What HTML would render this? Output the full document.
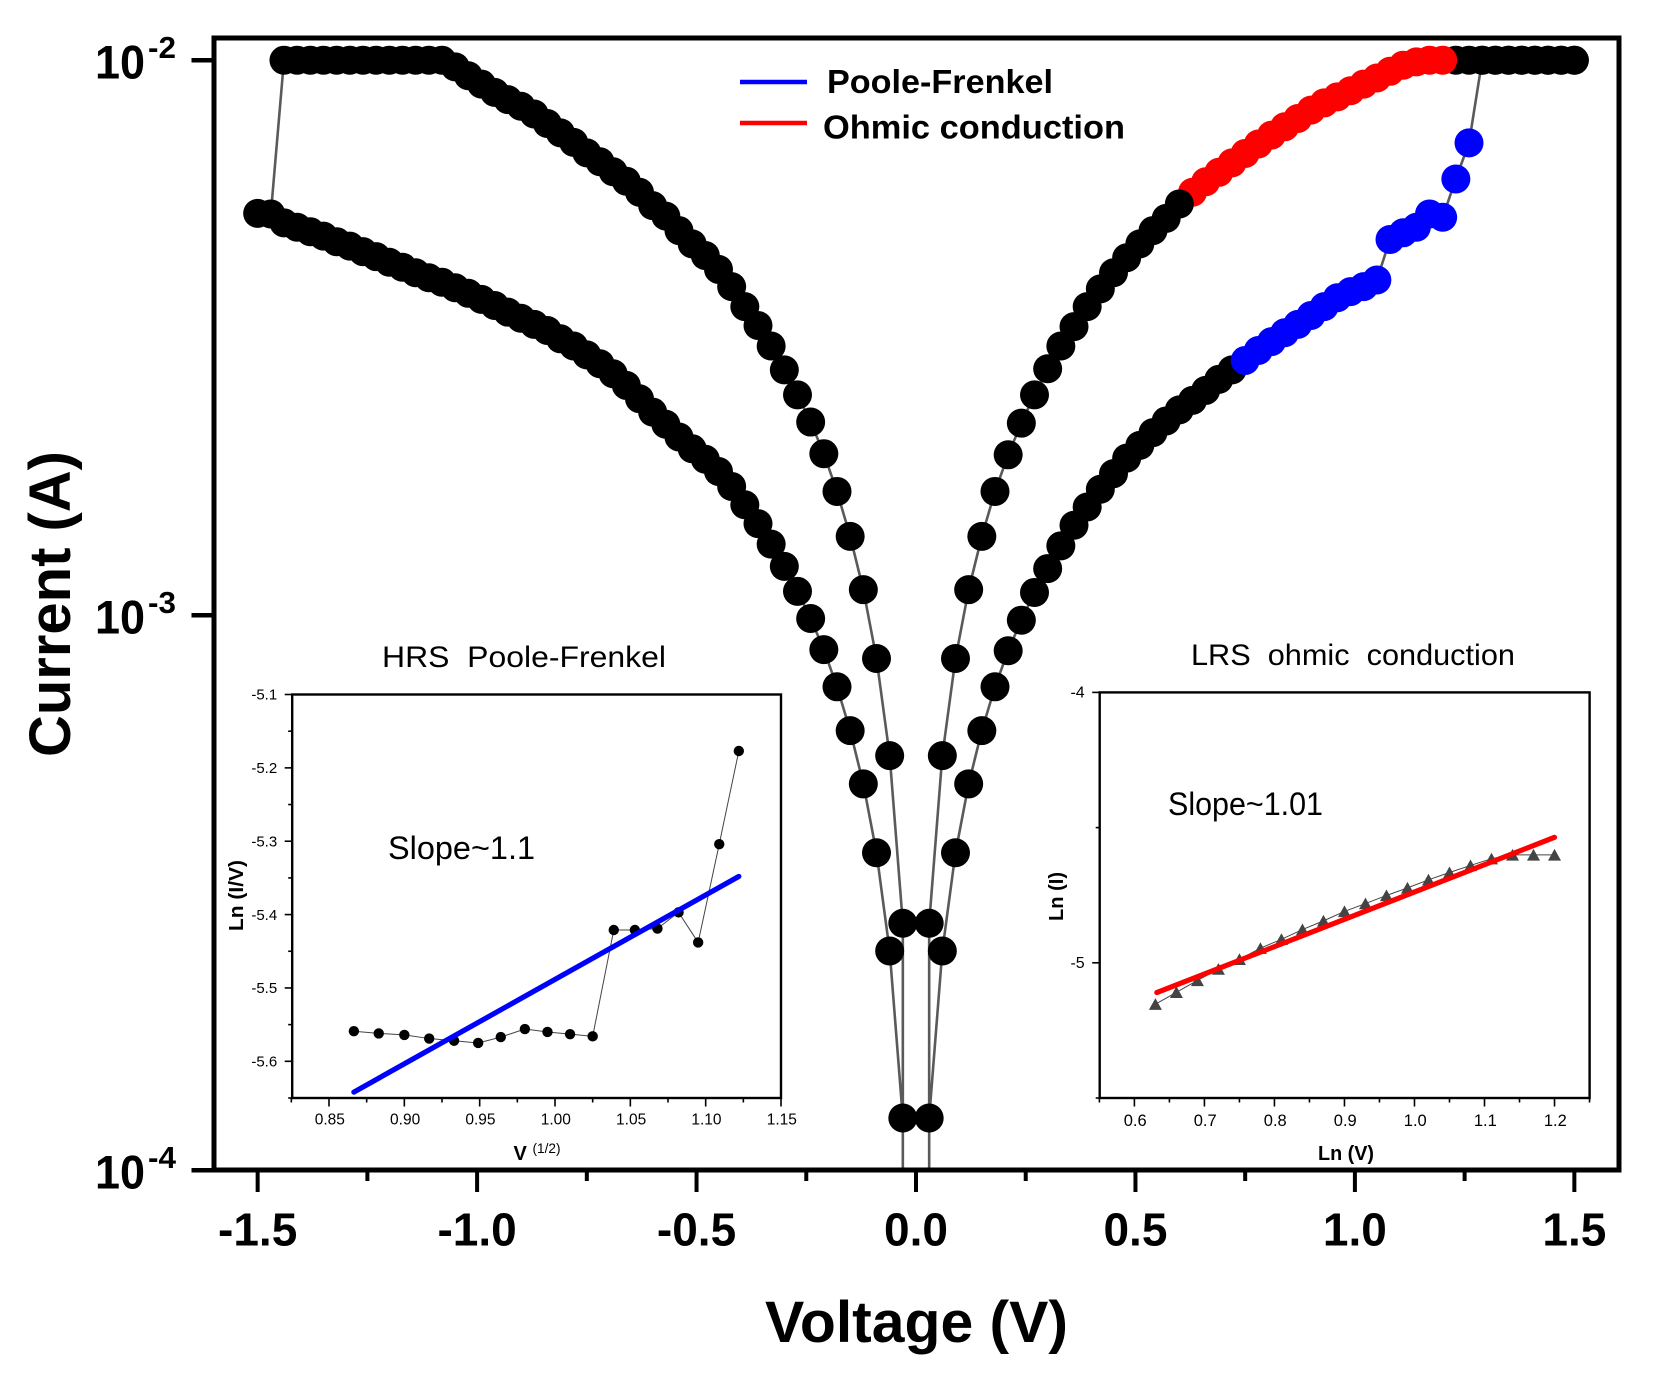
<!DOCTYPE html>
<html lang="en">
<head>
<meta charset="utf-8">
<title>Current vs Voltage</title>
<style>
html,body{margin:0;padding:0;background:#fff;width:1655px;height:1375px;overflow:hidden;}
svg{display:block;position:absolute;left:0;top:0;overflow:hidden;}
text{font-family:"Liberation Sans",sans-serif;fill:#000;white-space:pre;}
.b{font-weight:bold;}
</style>
</head>
<body>
<svg id="chart" width="1655" height="1375" viewBox="0 0 1655 1375" xmlns="http://www.w3.org/2000/svg">
  <defs>
    <clipPath id="main-clip"><rect x="214" y="38" width="1405" height="1132"/></clipPath>
  </defs>
  <rect x="0" y="0" width="1655" height="1375" fill="#fff"/>
  <g id="main-lines" clip-path="url(#main-clip)"></g>
  <g id="main-marks"></g>
  <rect x="214" y="38" width="1405" height="1132" fill="none" stroke="#000" stroke-width="5"/>
  <g id="main-axes"></g>

  <text class="b" x="765" y="1342" font-size="58" textLength="303" lengthAdjust="spacingAndGlyphs">Voltage (V)</text>
  <text class="b" transform="translate(70,757) rotate(-90)" font-size="58" textLength="306" lengthAdjust="spacingAndGlyphs">Current (A)</text>

  <g>
    <line x1="740" x2="807" y1="82" y2="82" stroke="#00f" stroke-width="4.5"/>
    <text class="b" x="827" y="93" font-size="33" textLength="226" lengthAdjust="spacingAndGlyphs">Poole-Frenkel</text>
    <line x1="740" x2="807" y1="123" y2="123" stroke="#f00" stroke-width="4.5"/>
    <text class="b" x="823" y="138.5" font-size="33" textLength="302" lengthAdjust="spacingAndGlyphs">Ohmic conduction</text>
  </g>

  <text x="382" y="667" font-size="30" textLength="284" lengthAdjust="spacingAndGlyphs">HRS  Poole-Frenkel</text>
  <g id="hrs-inset"></g>
  <rect x="292.2" y="694.5" width="488.8" height="403.5" fill="none" stroke="#000" stroke-width="2.4"/>
  <text x="388" y="859" font-size="32" textLength="147" lengthAdjust="spacingAndGlyphs">Slope~1.1</text>
  <text class="b" transform="translate(243,931) rotate(-90)" font-size="20" textLength="71" lengthAdjust="spacingAndGlyphs">Ln (I/V)</text>
  <text class="b" x="513.5" y="1160" font-size="20">V</text>
  <text x="532.5" y="1153" font-size="13.5" textLength="28" lengthAdjust="spacingAndGlyphs">(1/2)</text>

  <text x="1191" y="665" font-size="30" textLength="324" lengthAdjust="spacingAndGlyphs">LRS  ohmic  conduction</text>
  <g id="lrs-inset"></g>
  <rect x="1099.7" y="692.4" width="489.9" height="405.6" fill="none" stroke="#000" stroke-width="2.4"/>
  <text x="1168" y="815" font-size="32" textLength="155" lengthAdjust="spacingAndGlyphs">Slope~1.01</text>
  <text class="b" transform="translate(1063,921) rotate(-90)" font-size="20" textLength="49" lengthAdjust="spacingAndGlyphs">Ln (I)</text>
  <text class="b" x="1318" y="1160" font-size="20" textLength="56" lengthAdjust="spacingAndGlyphs">Ln (V)</text>
</svg>

<script>
// ---- Main chart data: voltage magnitude and log10(current in A) ----
const sweepVoltages = [0.03,0.06,0.09,0.12,0.15,0.18,0.21,0.24,0.27,0.30,0.33,0.36,0.39,0.42,0.45,0.48,0.51,0.54,0.57,0.60,0.63,0.66,0.69,0.72,0.75,0.78,0.81,0.84,0.87,0.90,0.93,0.96,0.99,1.02,1.05,1.08,1.11,1.14,1.17,1.20,1.23,1.26,1.29,1.32,1.35,1.38,1.41,1.44,1.47,1.50];
const rightLowerLogI = [-3.906,-3.605,-3.428,-3.304,-3.208,-3.129,-3.064,-3.009,-2.959,-2.916,-2.875,-2.838,-2.805,-2.773,-2.745,-2.717,-2.694,-2.671,-2.650,-2.630,-2.613,-2.595,-2.575,-2.558,-2.541,-2.523,-2.507,-2.491,-2.476,-2.460,-2.444,-2.428,-2.417,-2.408,-2.396,-2.323,-2.311,-2.301,-2.277,-2.283,-2.214,-2.149,-2,-2,-2,-2,-2,-2,-2,-2];
const rightUpperLogI = [-3.555,-3.253,-3.078,-2.954,-2.858,-2.777,-2.711,-2.654,-2.603,-2.556,-2.515,-2.480,-2.444,-2.412,-2.383,-2.356,-2.331,-2.307,-2.285,-2.259,-2.238,-2.219,-2.202,-2.185,-2.168,-2.151,-2.135,-2.120,-2.105,-2.090,-2.077,-2.066,-2.055,-2.043,-2.032,-2.020,-2.009,-2.003,-2,-2,-2,-2,-2,-2,-2,-2,-2,-2,-2,-2];
const leftUpperLogI = [-3.555,-3.253,-3.078,-2.954,-2.858,-2.777,-2.709,-2.652,-2.603,-2.558,-2.515,-2.478,-2.444,-2.408,-2.377,-2.352,-2.331,-2.307,-2.281,-2.262,-2.238,-2.218,-2.201,-2.183,-2.167,-2.148,-2.131,-2.114,-2.097,-2.083,-2.071,-2.058,-2.043,-2.028,-2.012,-2,-2,-2,-2,-2,-2,-2,-2,-2,-2,-2,-2,-2,-2.277,-2.276];
const leftLowerLogI = [-3.906,-3.605,-3.428,-3.304,-3.208,-3.129,-3.062,-3.006,-2.957,-2.912,-2.872,-2.835,-2.801,-2.768,-2.741,-2.719,-2.700,-2.679,-2.656,-2.634,-2.610,-2.586,-2.565,-2.547,-2.531,-2.515,-2.502,-2.487,-2.476,-2.465,-2.454,-2.442,-2.431,-2.420,-2.410,-2.400,-2.392,-2.383,-2.373,-2.364,-2.354,-2.345,-2.335,-2.327,-2.317,-2.309,-2.301,-2.293];
const offScaleLogI = -4.02;
const pooleFrenkelRange = [0.75,1.26];
const ohmicRange = [0.63,1.20];
const xMajorTicks = [-1.5,-1.0,-0.5,0.0,0.5,1.0,1.5];
const xMinorTicks = [-1.25,-0.75,-0.25,0.25,0.75,1.25];
const xTickLabels = ["-1.5","-1.0","-0.5","0.0","0.5","1.0","1.5"];
const yDecades = [-2,-3,-4];
const yDecadeExponents = ["-2","-3","-4"];

// ---- HRS inset data ----
const hrsX = [0.8665,0.883,0.900,0.9165,0.933,0.949,0.964,0.980,0.995,1.010,1.025,1.039,1.053,1.068,1.082,1.095,1.109,1.122];
const hrsY = [-5.559,-5.562,-5.564,-5.569,-5.572,-5.575,-5.567,-5.556,-5.560,-5.563,-5.566,-5.421,-5.421,-5.419,-5.397,-5.438,-5.304,-5.177];
const hrsFitX = [0.8665,1.122];
const hrsFitY = [-5.642,-5.348];
const hrsXTicks = [0.85,0.90,0.95,1.00,1.05,1.10,1.15];
const hrsXMinor = [0.825,0.875,0.925,0.975,1.025,1.075,1.125];
const hrsXLabels = ["0.85","0.90","0.95","1.00","1.05","1.10","1.15"];
const hrsYTicks = [-5.1,-5.2,-5.3,-5.4,-5.5,-5.6];
const hrsYMinor = [-5.15,-5.25,-5.35,-5.45,-5.55,-5.65];
const hrsYLabels = ["-5.1","-5.2","-5.3","-5.4","-5.5","-5.6"];

// ---- LRS inset data ----
const lrsX = [0.63,0.66,0.69,0.72,0.75,0.78,0.81,0.84,0.87,0.90,0.93,0.96,0.99,1.02,1.05,1.08,1.11,1.14,1.17,1.20];
const lrsY = [-5.153,-5.109,-5.065,-5.023,-4.987,-4.946,-4.913,-4.877,-4.845,-4.810,-4.781,-4.751,-4.723,-4.693,-4.666,-4.640,-4.615,-4.601,-4.601,-4.601];
const lrsFitX = [0.632,1.20];
const lrsFitY = [-5.110,-4.536];
const lrsXTicks = [0.6,0.7,0.8,0.9,1.0,1.1,1.2];
const lrsXMinor = [0.55,0.65,0.75,0.85,0.95,1.05,1.15,1.25];
const lrsXLabels = ["0.6","0.7","0.8","0.9","1.0","1.1","1.2"];
const lrsYTicks = [-4,-5];
const lrsYMinor = [-4.5,-5.5];
const lrsYLabels = ["-4","-5"];

// ---- Axis functions ----
function xMain(v){ return 916 + 438.9 * v; }
function yMain(logI){ return 60.2 + (-2 - logI) * 555; }
function xHrs(v){ return 329 + (v - 0.85) * 1506.7; }
function yHrs(v){ return 694.5 + (-5.1 - v) * 733.6; }
function xLrs(v){ return 1134.4 + (v - 0.6) * 700.2; }
function yLrs(v){ return 692.4 + (-4 - v) * 270.4; }

const NS = "http://www.w3.org/2000/svg";
function make(tag, attrs, parent){
  const el = document.createElementNS(NS, tag);
  for (const k in attrs) el.setAttribute(k, attrs[k]);
  parent.appendChild(el);
  return el;
}

const mainLines = document.getElementById("main-lines");
const mainMarks = document.getElementById("main-marks");
const mainAxes = document.getElementById("main-axes");
const hrsG = document.getElementById("hrs-inset");
const lrsG = document.getElementById("lrs-inset");

// ---- Main lines ----
function branchPath(sign, first, second){
  const pts = [[sign * sweepVoltages[0], offScaleLogI]];
  first.forEach(function(y, i){ pts.push([sign * sweepVoltages[i], y]); });
  for (let i = second.length - 1; i >= 0; i--) pts.push([sign * sweepVoltages[i], second[i]]);
  pts.push([sign * sweepVoltages[0], offScaleLogI]);
  return pts.map(function(p, i){ return (i ? "L" : "M") + xMain(p[0]).toFixed(2) + " " + yMain(p[1]).toFixed(2); }).join(" ");
}
const rightPath = make("path", {d: branchPath(1, rightLowerLogI, rightUpperLogI), fill: "none", stroke: "#5a5a5a", "stroke-width": 2.6}, mainLines);


const leftPath = make("path", {d: branchPath(-1, leftUpperLogI, leftLowerLogI), fill: "none", stroke: "#5a5a5a", "stroke-width": 2.6}, mainLines);



// ---- Main markers ----
function addMark(v, logI, color){
  const c = make("circle", {cx: xMain(v).toFixed(2), cy: yMain(logI).toFixed(2), r: 14.5, fill: color}, mainMarks);
  
  
}
leftUpperLogI.forEach(function(y, i){ addMark(-sweepVoltages[i], y, "#000"); });
leftLowerLogI.forEach(function(y, i){ addMark(-sweepVoltages[i], y, "#000"); });
rightLowerLogI.forEach(function(y, i){
  const v = sweepVoltages[i];
  addMark(v, y, (v >= pooleFrenkelRange[0] && v <= pooleFrenkelRange[1]) ? "#00f" : "#000");
});
for (let i = rightUpperLogI.length - 1; i >= 0; i--) {
  const v = sweepVoltages[i];
  addMark(v, rightUpperLogI[i], (v >= ohmicRange[0] && v <= ohmicRange[1]) ? "#f00" : "#000");
}

// ---- Main axes ----
xMajorTicks.forEach(function(v, i){
  const t = make("line", {x1: xMain(v), x2: xMain(v), y1: 1170, y2: 1192, stroke: "#000", "stroke-width": 4}, mainAxes);
  
  
  const l = make("text", {x: xMain(v), y: 1245.5, "font-size": 46, "font-weight": "bold", "text-anchor": "middle"}, mainAxes);
  l.textContent = xTickLabels[i];
  
  
});
xMinorTicks.forEach(function(v){
  const t = make("line", {x1: xMain(v), x2: xMain(v), y1: 1170, y2: 1181, stroke: "#000", "stroke-width": 4}, mainAxes);
  
  
});
yDecades.forEach(function(d, i){
  const y = yMain(d);
  const t = make("line", {x1: 191.5, x2: 214, y1: y, y2: y, stroke: "#000", "stroke-width": 4.5}, mainAxes);
  
  
  const l = make("text", {x: 95, y: y + 18.5, "font-size": 47, "font-weight": "bold", textLength: 50, lengthAdjust: "spacingAndGlyphs"}, mainAxes);
  l.textContent = "10";
  
  
  const s = make("text", {x: 148, y: y - 2, "font-size": 31, "font-weight": "bold", textLength: 28, lengthAdjust: "spacingAndGlyphs"}, mainAxes);
  s.textContent = yDecadeExponents[i];
  
  
});

// ---- Inset helper ----
function insetAxes(g, xFn, yFn, frame, xT, xM, xL, yT, yM, yL, fontSize){
  xT.forEach(function(v, i){
    const t = make("line", {x1: xFn(v), x2: xFn(v), y1: frame.bottom, y2: frame.bottom + 8.5, stroke: "#000", "stroke-width": 1.6}, g);
    
    
    const l = make("text", {x: xFn(v) + 0.8, y: frame.labelY, "font-size": fontSize, "text-anchor": "middle"}, g);
    l.textContent = xL[i];
    
    
  });
  xM.forEach(function(v){
    const t = make("line", {x1: xFn(v), x2: xFn(v), y1: frame.bottom, y2: frame.bottom + 4.5, stroke: "#000", "stroke-width": 1.6}, g);
    
    
  });
  yT.forEach(function(v, i){
    const t = make("line", {x1: frame.left - 7.5, x2: frame.left, y1: yFn(v), y2: yFn(v), stroke: "#000", "stroke-width": 1.6}, g);
    
    
    const l = make("text", {x: frame.left - 15, y: yFn(v) + 5.2, "font-size": fontSize - 0.5, "text-anchor": "end"}, g);
    l.textContent = yL[i];
    
    
  });
  yM.forEach(function(v){
    const t = make("line", {x1: frame.left - 4, x2: frame.left, y1: yFn(v), y2: yFn(v), stroke: "#000", "stroke-width": 1.6}, g);
    
    
  });
}
insetAxes(hrsG, xHrs, yHrs, {left: 292.2, bottom: 1098, labelY: 1124.5}, hrsXTicks, hrsXMinor, hrsXLabels, hrsYTicks, hrsYMinor, hrsYLabels, 15.5);
insetAxes(lrsG, xLrs, yLrs, {left: 1099.7, bottom: 1098, labelY: 1126}, lrsXTicks, lrsXMinor, lrsXLabels, lrsYTicks, lrsYMinor, lrsYLabels, 16.5);

// ---- HRS inset series ----
const hrsLine = make("polyline", {points: hrsX.map(function(x, i){ return xHrs(x).toFixed(2) + "," + yHrs(hrsY[i]).toFixed(2); }).join(" "), fill: "none", stroke: "#444", "stroke-width": 1}, hrsG);


hrsX.forEach(function(x, i){
  const c = make("circle", {cx: xHrs(x).toFixed(2), cy: yHrs(hrsY[i]).toFixed(2), r: 5.2, fill: "#000"}, hrsG);
  
  
});
const hrsFit = make("line", {x1: xHrs(hrsFitX[0]), y1: yHrs(hrsFitY[0]), x2: xHrs(hrsFitX[1]), y2: yHrs(hrsFitY[1]), stroke: "#00f", "stroke-width": 5.2, "stroke-linecap": "round"}, hrsG);



// ---- LRS inset series ----
const lrsLine = make("polyline", {points: lrsX.map(function(x, i){ return xLrs(x).toFixed(2) + "," + yLrs(lrsY[i]).toFixed(2); }).join(" "), fill: "none", stroke: "#444", "stroke-width": 1}, lrsG);


lrsX.forEach(function(x, i){
  const cx = xLrs(x), cy = yLrs(lrsY[i]);
  const p = make("polygon", {points: (cx - 6.5).toFixed(2) + "," + (cy + 5.7).toFixed(2) + " " + (cx + 6.5).toFixed(2) + "," + (cy + 5.7).toFixed(2) + " " + cx.toFixed(2) + "," + (cy - 6).toFixed(2), fill: "#444"}, lrsG);
  
  
});
const lrsFit = make("line", {x1: xLrs(lrsFitX[0]), y1: yLrs(lrsFitY[0]), x2: xLrs(lrsFitX[1]), y2: yLrs(lrsFitY[1]), stroke: "#f00", "stroke-width": 5.2, "stroke-linecap": "round"}, lrsG);


</script>
</body>
</html>
